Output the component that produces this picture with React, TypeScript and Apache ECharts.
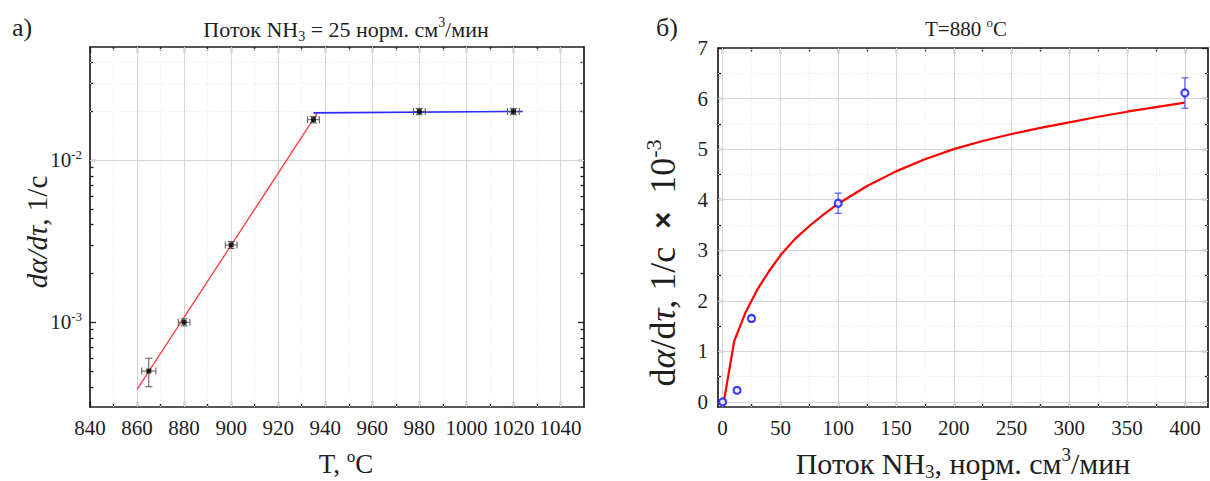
import { useEffect, useRef } from 'react';
import * as echarts from 'echarts';

const SERIF = 'Liberation Serif';
const INK = '#1e1e1e';

// ---------- Panel а): rate vs temperature (log scale) ----------
const tempC = [865, 880, 900, 935, 980, 1020];
const rateA = [5.0e-4, 1.0e-3, 3.0e-3, 1.78e-2, 2.0e-2, 2.0e-2];
const rateALow = [4.0e-4, 0.95e-3, 2.85e-3, 1.7e-2, 1.91e-2, 1.91e-2];
const rateAHigh = [6.0e-4, 1.05e-3, 3.15e-3, 1.86e-2, 2.09e-2, 2.09e-2];
const tempErr = [3, 2.5, 2.5, 2.5, 2.5, 2.5];
const redFitTemp = [860, 936.5];
const redFitRate = [3.85e-4, 1.94e-2];
const blueFitTemp = [935, 1024];
const blueFitRate = [1.96e-2, 2.0e-2];
const tempTicksMajor = [840, 860, 880, 900, 920, 940, 960, 980, 1000, 1020, 1040];
const tempTicksMinor = [850, 870, 890, 910, 930, 950, 970, 990, 1010, 1030];
const rateTicksMajor = [1e-3, 1e-2];
const rateTicksMinor = [
  4e-4, 5e-4, 6e-4, 7e-4, 8e-4, 9e-4,
  2e-3, 3e-3, 4e-3, 5e-3, 6e-3, 7e-3, 8e-3, 9e-3,
  2e-2, 3e-2, 4e-2,
];

// ---------- Panel б): rate vs NH3 flow at 880 °C ----------
const flow = [0, 12.5, 25, 100, 400];
const rateB = [0, 0.23, 1.65, 3.93, 6.11];
const rateBErr = [0.04, 0.04, 0.06, 0.2, 0.3];
const fitFlow = [1, 10, 20, 30, 40, 50, 62.5, 75, 87.5, 100, 125, 150, 175, 200, 225, 250, 275, 300, 325, 350, 375, 400];
const fitRateB = [0, 1.2, 1.78, 2.22, 2.58, 2.9, 3.22, 3.48, 3.71, 3.92, 4.27, 4.56, 4.8, 5.0, 5.16, 5.3, 5.42, 5.53, 5.64, 5.74, 5.83, 5.92];
const flowTicksMajor = [0, 50, 100, 150, 200, 250, 300, 350, 400];
const flowTicksMinor = [25, 75, 125, 175, 225, 275, 325, 375];
const rateBTicksMajor = [0, 1, 2, 3, 4, 5, 6, 7];
const rateBTicksMinor = [0.5, 1.5, 2.5, 3.5, 4.5, 5.5, 6.5];

const zip = (a: number[], b: number[]) => a.map((v, i) => [v, b[i]]);

type AxisSpec = {
  gridIndex: number;
  position: string;
  major: boolean;
  type: 'value' | 'log';
  min: number;
  max: number;
  ticks: number[];
  labels?: number[];
  formatter?: any;
  margin?: number;
};

const LABEL_RICH = {
  n: { fontSize: 21, fontFamily: SERIF, color: INK, lineHeight: 24, verticalAlign: 'middle' },
  b: { fontSize: 21, fontFamily: SERIF, color: INK, lineHeight: 24, verticalAlign: 'middle' },
  s: { fontSize: 13, fontFamily: SERIF, color: INK, lineHeight: 13, verticalAlign: 'top' },
};

function makeAxis(s: AxisSpec) {
  return {
    type: s.type,
    ...(s.type === 'log' ? { logBase: 10 } : {}),
    gridIndex: s.gridIndex,
    position: s.position,
    min: s.min,
    max: s.max,
    axisLine: { show: s.major, onZero: false, lineStyle: { color: INK, width: 1.7 } },
    axisTick: {
      show: true,
      inside: true,
      length: s.major ? 6 : 3.5,
      customValues: s.ticks,
      lineStyle: { color: INK, width: 1.3 },
    },
    axisLabel: s.labels
      ? {
          show: true,
          customValues: s.labels,
          interval: 0,
          hideOverlap: false,
          formatter: s.formatter ?? ((v: number) => `{n|${String(v)}}`),
          rich: LABEL_RICH,
          fontFamily: SERIF,
          fontSize: 21,
          color: INK,
          margin: s.margin ?? 9,
        }
      : { show: false },
    splitLine: { show: false },
    minorTick: { show: false },
    minorSplitLine: { show: false },
  };
}

const MAJOR_GRID = { color: '#d6d6d6', width: 1, type: 'solid' };
const MINOR_GRID = { color: '#e8e8e8', width: 1, type: [1, 2] };

function gridLineSeries(xi: number, yi: number, anchor: number[], xMajor: number[], xMinor: number[], yMajor: number[], yMinor: number[]) {
  const data: any[] = [];
  xMinor.forEach((v) => data.push({ xAxis: v, lineStyle: MINOR_GRID }));
  yMinor.forEach((v) => data.push({ yAxis: v, lineStyle: MINOR_GRID }));
  xMajor.forEach((v) => data.push({ xAxis: v, lineStyle: MAJOR_GRID }));
  yMajor.forEach((v) => data.push({ yAxis: v, lineStyle: MAJOR_GRID }));
  return {
    type: 'line',
    xAxisIndex: xi,
    yAxisIndex: yi,
    data: [anchor],
    symbol: 'none',
    lineStyle: { opacity: 0 },
    silent: true,
    z: 1,
    markLine: {
      z: 1,
      silent: true,
      symbol: ['none', 'none'],
      label: { show: false },
      emphasis: { disabled: true },
      data,
    },
  };
}

const richText = (size: number, extra: any = {}) => ({
  fontSize: size,
  fontFamily: SERIF,
  fill: INK,
  lineHeight: size + 6,
  verticalAlign: 'middle',
  ...extra,
});

function textEl(x: number, y: number, text: string, size: number, extra: any = {}) {
  const sub = Math.round(size * 0.62);
  return {
    type: 'text',
    x,
    y,
    silent: true,
    ...extra,
    style: {
      text,
      align: 'center',
      verticalAlign: 'middle',
      fontFamily: SERIF,
      fontSize: size,
      fill: INK,
      rich: {
        r: richText(size),
        i: richText(size, { fontStyle: 'italic' }),
        sup: { fontSize: sub, fontFamily: SERIF, fill: INK, lineHeight: sub, verticalAlign: 'top' },
        sub: { fontSize: sub, fontFamily: SERIF, fill: INK, lineHeight: sub, verticalAlign: 'bottom' },
        x: richText(Math.round(size * 0.8), { fontFamily: 'Liberation Sans', fontWeight: 'bold' }),
      },
    },
  };
}

function buildOption() {
  const gridA = { left: 90, top: 47, width: 494, height: 360, outerBoundsMode: 'none', containLabel: false };
  const gridB = { left: 718, top: 48, width: 490, height: 359, outerBoundsMode: 'none', containLabel: false };

  const logFormatter = (v: number) => `{b|10}{s|${Math.round(Math.log10(v))}}`;

  const xAxes = [
    makeAxis({ gridIndex: 0, position: 'bottom', major: true, type: 'value', min: 840, max: 1050, ticks: tempTicksMajor, labels: tempTicksMajor }),
    makeAxis({ gridIndex: 0, position: 'bottom', major: false, type: 'value', min: 840, max: 1050, ticks: tempTicksMinor }),
    makeAxis({ gridIndex: 0, position: 'top', major: true, type: 'value', min: 840, max: 1050, ticks: tempTicksMajor }),
    makeAxis({ gridIndex: 0, position: 'top', major: false, type: 'value', min: 840, max: 1050, ticks: tempTicksMinor }),
    makeAxis({ gridIndex: 1, position: 'bottom', major: true, type: 'value', min: -4, max: 420, ticks: flowTicksMajor, labels: flowTicksMajor }),
    makeAxis({ gridIndex: 1, position: 'bottom', major: false, type: 'value', min: -4, max: 420, ticks: flowTicksMinor }),
    makeAxis({ gridIndex: 1, position: 'top', major: true, type: 'value', min: -4, max: 420, ticks: flowTicksMajor }),
    makeAxis({ gridIndex: 1, position: 'top', major: false, type: 'value', min: -4, max: 420, ticks: flowTicksMinor }),
  ];

  const yAxes = [
    makeAxis({ gridIndex: 0, position: 'left', major: true, type: 'log', min: 3e-4, max: 5e-2, ticks: rateTicksMajor, labels: rateTicksMajor, formatter: logFormatter, margin: 8 }),
    makeAxis({ gridIndex: 0, position: 'left', major: false, type: 'log', min: 3e-4, max: 5e-2, ticks: rateTicksMinor }),
    makeAxis({ gridIndex: 0, position: 'right', major: true, type: 'log', min: 3e-4, max: 5e-2, ticks: rateTicksMajor }),
    makeAxis({ gridIndex: 0, position: 'right', major: false, type: 'log', min: 3e-4, max: 5e-2, ticks: rateTicksMinor }),
    makeAxis({ gridIndex: 1, position: 'left', major: true, type: 'value', min: -0.1, max: 7, ticks: rateBTicksMajor, labels: rateBTicksMajor, margin: 10 }),
    makeAxis({ gridIndex: 1, position: 'left', major: false, type: 'value', min: -0.1, max: 7, ticks: rateBTicksMinor }),
    makeAxis({ gridIndex: 1, position: 'right', major: true, type: 'value', min: -0.1, max: 7, ticks: rateBTicksMajor }),
    makeAxis({ gridIndex: 1, position: 'right', major: false, type: 'value', min: -0.1, max: 7, ticks: rateBTicksMinor }),
  ];

  const errorA = tempC.map((t, i) => [t, rateA[i], t - tempErr[i], t + tempErr[i], rateALow[i], rateAHigh[i]]);
  const errorB = flow.map((f, i) => [f, rateB[i], rateB[i] - rateBErr[i], rateB[i] + rateBErr[i]]);

  const series: any[] = [
    gridLineSeries(0, 0, [tempC[0], rateA[0]], tempTicksMajor.slice(1), tempTicksMinor, rateTicksMajor, rateTicksMinor),
    gridLineSeries(4, 4, [flow[0], rateB[0]], flowTicksMajor, flowTicksMinor, rateBTicksMajor.slice(0, -1), rateBTicksMinor),
    {
      type: 'line',
      xAxisIndex: 0,
      yAxisIndex: 0,
      data: zip(redFitTemp, redFitRate),
      symbol: 'none',
      lineStyle: { color: '#ff3a3a', width: 1.3 },
      z: 6,
    },
    {
      type: 'line',
      xAxisIndex: 0,
      yAxisIndex: 0,
      data: zip(blueFitTemp, blueFitRate),
      symbol: 'none',
      lineStyle: { color: '#2a2aff', width: 1.6 },
      z: 6,
    },
    {
      type: 'custom',
      coordinateSystem: 'cartesian2d',
      xAxisIndex: 0,
      yAxisIndex: 0,
      data: errorA,
      encode: { x: 0, y: 1 },
      z: 7,
      renderItem: (_p: any, api: any) => {
        const x = api.value(0), y = api.value(1);
        const c = api.coord([x, y]);
        const xl = api.coord([api.value(2), y]);
        const xh = api.coord([api.value(3), y]);
        const yl = api.coord([x, api.value(4)]);
        const yh = api.coord([x, api.value(5)]);
        const cap = 3.5;
        const st = { stroke: '#555555', lineWidth: 1 };
        const ln = (x1: number, y1: number, x2: number, y2: number) => ({ type: 'line', shape: { x1, y1, x2, y2 }, style: st });
        return {
          type: 'group',
          children: [
            ln(xl[0], c[1], xh[0], c[1]),
            ln(xl[0], c[1] - cap, xl[0], c[1] + cap),
            ln(xh[0], c[1] - cap, xh[0], c[1] + cap),
            ln(c[0], yl[1], c[0], yh[1]),
            ln(c[0] - cap, yl[1], c[0] + cap, yl[1]),
            ln(c[0] - cap, yh[1], c[0] + cap, yh[1]),
          ],
        };
      },
    },
    {
      type: 'scatter',
      xAxisIndex: 0,
      yAxisIndex: 0,
      data: zip(tempC, rateA),
      symbol: 'rect',
      symbolSize: 5,
      itemStyle: { color: '#000000' },
      z: 8,
    },
    {
      type: 'line',
      xAxisIndex: 4,
      yAxisIndex: 4,
      data: zip(fitFlow, fitRateB),
      symbol: 'none',
      lineStyle: { color: '#ff0000', width: 2.2 },
      z: 6,
    },
    {
      type: 'custom',
      coordinateSystem: 'cartesian2d',
      xAxisIndex: 4,
      yAxisIndex: 4,
      data: errorB,
      encode: { x: 0, y: 1 },
      z: 7,
      renderItem: (_p: any, api: any) => {
        const x = api.value(0);
        const lo = api.coord([x, api.value(2)]);
        const hi = api.coord([x, api.value(3)]);
        const cap = 3.5;
        const st = { stroke: '#5c5cff', lineWidth: 1.2 };
        const ln = (x1: number, y1: number, x2: number, y2: number) => ({ type: 'line', shape: { x1, y1, x2, y2 }, style: st });
        return {
          type: 'group',
          children: [
            ln(lo[0], lo[1], hi[0], hi[1]),
            ln(lo[0] - cap, lo[1], lo[0] + cap, lo[1]),
            ln(hi[0] - cap, hi[1], hi[0] + cap, hi[1]),
          ],
        };
      },
    },
    {
      type: 'scatter',
      xAxisIndex: 4,
      yAxisIndex: 4,
      data: zip(flow, rateB),
      symbol: 'circle',
      symbolSize: 7,
      itemStyle: { color: '#ffffff', borderColor: '#1414ff', borderWidth: 2.2 },
      z: 8,
    },
  ];

  const graphic = [
    textEl(22, 27, '{r|a)}', 26),
    textEl(667, 27, '{r|б)}', 26),
    textEl(346, 29, '{r|Поток NH}{sub|3}{r| = 25 норм. см}{sup|3}{r|/мин}', 22),
    textEl(966, 29, '{r|T=880 }{sup|o}{r|C}', 21),
    textEl(346, 464, '{r|T, }{sup|o}{r|C}', 27),
    textEl(963, 463, '{r|Поток NH}{sub|3}{r|, норм. см}{sup|3}{r|/мин}', 30),
    textEl(37, 232, '{i|dα/dτ}{r|, 1/c}', 29, { rotation: Math.PI / 2 }),
    textEl(663, 263, '{r|d}{i|α}{r|/d}{i|τ}{r|, 1/c  }{x|×}{r|  10}{sup|-3}', 36, { rotation: Math.PI / 2 }),
  ];

  return {
    animation: false,
    backgroundColor: '#ffffff',
    textStyle: { fontFamily: SERIF },
    grid: [gridA, gridB],
    xAxis: xAxes,
    yAxis: yAxes,
    series,
    graphic,
  };
}

export default function App() {
  const ref = useRef<HTMLDivElement>(null);
  useEffect(() => {
    if (!ref.current) return;
    const chart = echarts.init(ref.current, undefined, { renderer: 'svg' });
    chart.setOption(buildOption() as any);
    return () => chart.dispose();
  }, []);
  return (
    <div
      ref={ref}
      style={{ position: 'fixed', left: 0, top: 0, width: 1210, height: 481, background: '#fff' }}
    />
  );
}
